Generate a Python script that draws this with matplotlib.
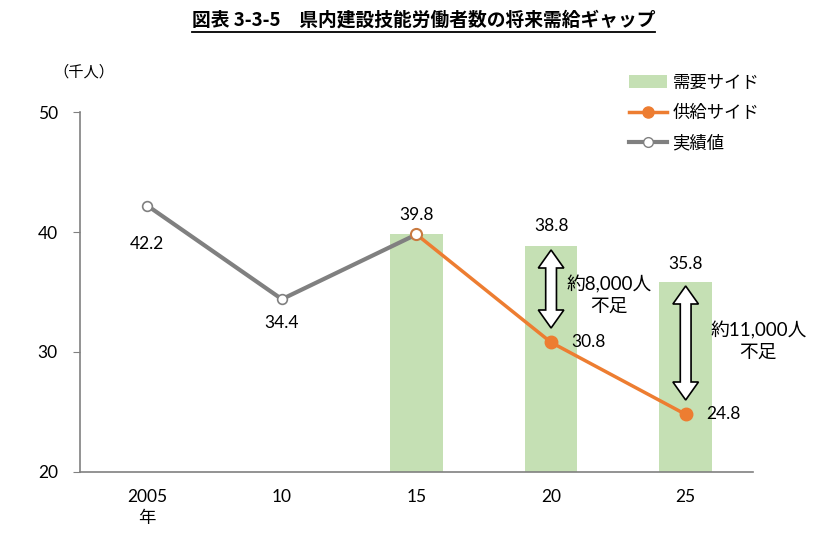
import numpy as np
import matplotlib
matplotlib.use('Agg')
import matplotlib.pyplot as plt
from matplotlib.patches import Polygon
from matplotlib.lines import Line2D

plt.rcParams['font.family'] = ['Lato', 'Noto Sans CJK JP', 'DejaVu Sans']

# データ
years = ['2005\n年', '10', '15', '20', '25']
demand = [np.nan, np.nan, 39.8, 38.8, 35.8]      # 需要サイド
supply = [np.nan, np.nan, 39.8, 30.8, 24.8]      # 供給サイド
actual = [42.2, 34.4, 39.8, np.nan, np.nan]      # 実績値
gap_labels = ['約8,000人\n不足', '約11,000人\n不足']
gap_idx = [3, 4]

GREEN = '#c5e0b4'
ORANGE = '#ed7d31'
GRAY = '#808080'

x = np.arange(len(years))

fig = plt.figure(figsize=(8.18, 5.38), dpi=100)
ax = fig.add_axes([0.0978, 0.1227, 0.8227, 0.6691])

ax.bar(x, demand, width=0.39, color=GREEN, zorder=1)
ax.plot(x, actual, color=GRAY, lw=3, marker='o', ms=7, mfc='white', mec=GRAY, mew=1.2, zorder=3)
ax.plot(x, supply, color=ORANGE, lw=2.5, marker='o', ms=9, mfc=ORANGE, mec=ORANGE,
        markevery=[3, 4], zorder=3)
# 2015 は実績と供給の接点
ax.plot(x[2], supply[2], marker='o', ms=8, mfc='white', mec='#c97a40', mew=1.5, zorder=4)

# データラベル
fs = 12.5
ax.text(x[0], actual[0] - 3.2, '42.2', ha='center', va='center', fontsize=fs)
ax.text(x[1], actual[1] - 2.0, '34.4', ha='center', va='center', fontsize=fs)
ax.text(x[2], supply[2] + 1.6, '39.8', ha='center', va='center', fontsize=fs)
ax.text(x[3], demand[3] + 1.7, '38.8', ha='center', va='center', fontsize=fs)
ax.text(x[4], demand[4] + 1.5, '35.8', ha='center', va='center', fontsize=fs)
ax.text(x[3] + 0.15, supply[3], '30.8', ha='left', va='center', fontsize=fs)
ax.text(x[4] + 0.15, supply[4], '24.8', ha='left', va='center', fontsize=fs)


# 白抜き両矢印
def double_arrow(ax, xc, y0, y1, w=0.095, sw=0.04, hl=1.5):
    pts = [(xc, y1), (xc + w, y1 - hl), (xc + sw, y1 - hl), (xc + sw, y0 + hl),
           (xc + w, y0 + hl), (xc, y0), (xc - w, y0 + hl), (xc - sw, y0 + hl),
           (xc - sw, y1 - hl), (xc - w, y1 - hl)]
    ax.add_patch(Polygon(pts, closed=True, fc='white', ec='black', lw=1.2, zorder=5))


label_dx = [0.43, 0.54]
label_y = [34.75, 30.9]
for i, lab, dx, ly in zip(gap_idx, gap_labels, label_dx, label_y):
    top = demand[i] - 0.3
    bot = supply[i] + 1.2
    double_arrow(ax, x[i], bot, top)
    ax.text(x[i] + dx, ly, lab, ha='center', va='center', fontsize=13.5, linespacing=1.3)

ax.set_xlim(-0.5, 4.5)
ax.set_ylim(20, 50)
ax.set_yticks([20, 30, 40, 50])
ax.set_xticks(x)
ax.set_xticklabels(years, fontsize=12.5, linespacing=1.4)
ax.tick_params(axis='x', length=0, pad=12)
ax.tick_params(axis='y', length=5, color=GRAY, labelsize=12.5, pad=11)
for s in ['top', 'right']:
    ax.spines[s].set_visible(False)
for s in ['left', 'bottom']:
    ax.spines[s].set_color(GRAY)
    ax.spines[s].set_linewidth(1.2)

fig.text(0.102, 0.866, '（千人）', ha='center', va='center', fontsize=11)

handles = [
    plt.Rectangle((0, 0), 1, 1, fc=GREEN, ec='none'),
    Line2D([], [], color=ORANGE, lw=2.5, marker='o', ms=8, mfc=ORANGE, mec=ORANGE),
    Line2D([], [], color=GRAY, lw=3, marker='o', ms=7, mfc='white', mec=GRAY),
]
fig.legend(handles, ['需要サイド', '供給サイド', '実績値'], loc='upper left',
           bbox_to_anchor=(0.75, 0.89), frameon=False, fontsize=12.5,
           handlelength=2.2, handleheight=0.8, labelspacing=0.8, handletextpad=0.3)

title = fig.text(0.518, 0.962, '図表 3-3-5　県内建設技能労働者数の将来需給ギャップ',
                 ha='center', va='center', fontsize=13.5, fontweight='bold',
                 family=['Noto Sans CJK JP'])
fig.canvas.draw()
bb = title.get_window_extent().transformed(fig.transFigure.inverted())
fig.add_artist(Line2D([bb.x0, bb.x1], [bb.y0 - 0.003, bb.y0 - 0.003], color='black', lw=1.3))

fig.savefig('out.png', dpi=100)
